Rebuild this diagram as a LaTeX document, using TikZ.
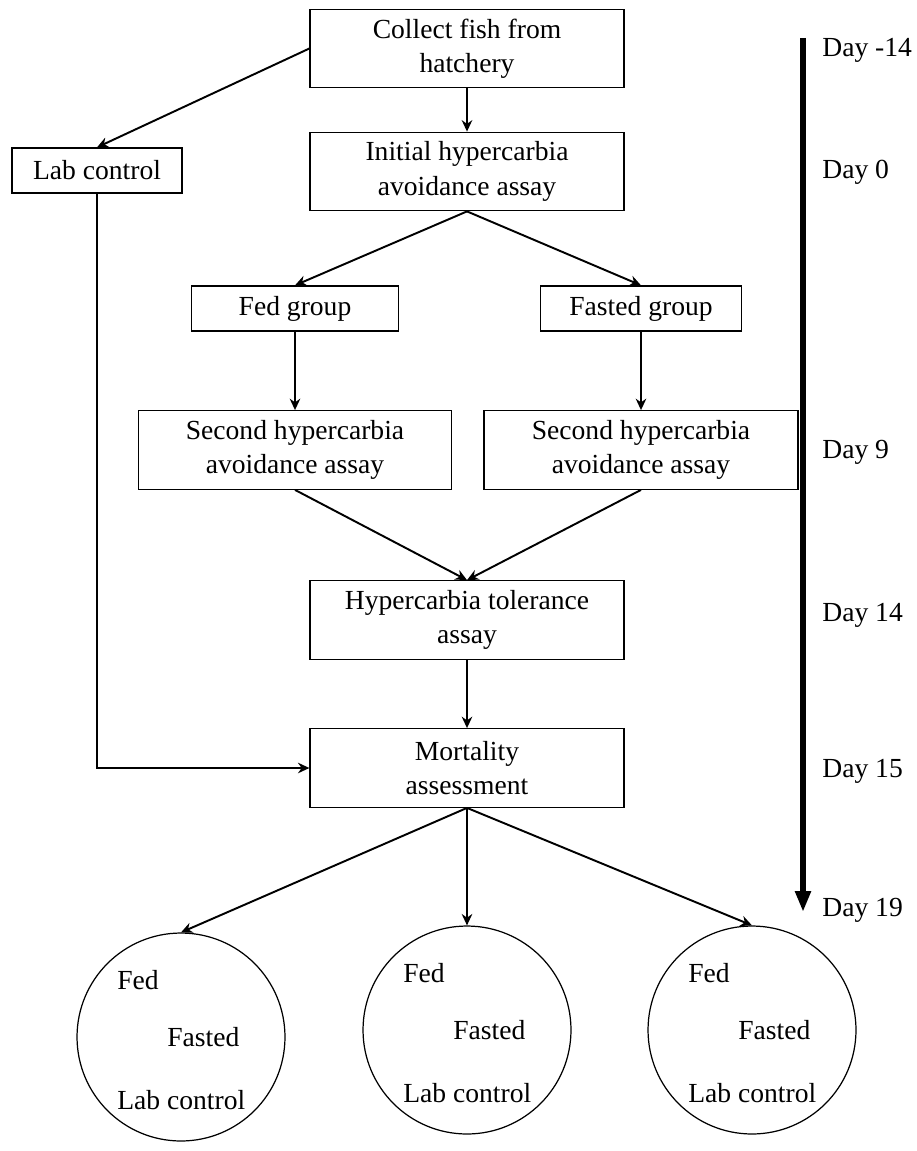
\documentclass[tikz,border=0pt]{standalone}
\usepackage{fontspec}
\setmainfont{Liberation Serif}
\usetikzlibrary{positioning, arrows.meta}

\begin{document}
\begin{tikzpicture}[x=0.02cm, y=-0.02cm,
        every node/.style={font=\fontsize{15.7}{19.5}\selectfont},
        box/.style={draw, line width=0.75pt, align=center, inner sep=0pt, minimum height=1.57cm},
        smallbox/.style={draw, line width=0.75pt, align=center, inner sep=0pt, minimum height=0.9cm},
        group/.style={draw, line width=0.7pt, circle, minimum size=4.16cm, inner sep=0pt},
        link/.style={line width=1.1pt, -{Stealth[length=6.5pt, width=6pt]}},
        day/.style={anchor=west, inner sep=0pt}]
        \useasboundingbox (0,0) rectangle (916,1151);
        % boxes
        \node[box, minimum width=6.28cm] (collect) at (467,48.5) {Collect fish from\\hatchery};
        \node[smallbox, minimum width=3.4cm] (lab) at (97,170.5) {Lab control};
        \node[box, minimum width=6.28cm] (initial) at (467,171.5) {Initial hypercarbia\\avoidance assay};
        \node[smallbox, minimum width=4.14cm] (fed) at (295,308.5) {Fed group};
        \node[smallbox, minimum width=4.02cm] (fasted) at (641,308.5) {Fasted group};
        \node[box, minimum width=6.26cm] (secfed) at (295,450) {Second hypercarbia\\avoidance assay};
        \node[box, minimum width=6.28cm] (secfasted) at (641,450) {Second hypercarbia\\avoidance assay};
        \node[box, minimum width=6.28cm] (tol) at (467,620) {Hypercarbia tolerance\\assay};
        \node[box, minimum width=6.28cm] (mort) at (467,768) {Mortality\\assessment};
        % outcome circles
        \foreach \name/\cx/\cy in {circL/181/1037, circM/467/1030, circR/752/1030} {
            \node[group] (\name) at (\cx,\cy) {};
            \node[anchor=west, inner sep=0pt] (\name fed) at (\cx-64,\cy-57) {Fed};
            \node[anchor=west, inner sep=0pt] (\name fasted) at (\cx-14,\cy) {Fasted};
            \node[anchor=west, inner sep=0pt] (\name lab) at (\cx-64,\cy+63) {Lab control};
        }
        % connectors
        \draw[link] (collect.west) -- (lab.north);
        \draw[link] (collect.south) -- (initial.north);
        \draw[link] (initial.south) -- (fed.north);
        \draw[link] (initial.south) -- (fasted.north);
        \draw[link] (fed.south) -- (secfed.north);
        \draw[link] (fasted.south) -- (secfasted.north);
        \draw[link] (secfed.south) -- (tol.north);
        \draw[link] (secfasted.south) -- (tol.north);
        \draw[link] (tol.south) -- (mort.north);
        \draw[link] (lab.south) -- (lab.south |- mort.west) -- (mort.west);
        \draw[link] (mort.south) -- (circL.north);
        \draw[link] (mort.south) -- (circM.north);
        \draw[link] (mort.south) -- (circR.north);
        % time line
        \coordinate (tstart) at (803,38);
        \coordinate (tend) at (803,912);
        \draw[line width=0.12cm, -{Triangle[length=0.42cm, width=0.3cm]}] (tstart) -- (tend);
        \node[day] (d1) at (822,50) {Day -14};
        \node[day] (d2) at (822,172) {Day 0};
        \node[day] (d3) at (822,452) {Day 9};
        \node[day] (d4) at (822,615) {Day 14};
        \node[day] (d5) at (822,771) {Day 15};
        \node[day] (d6) at (822,910) {Day 19};
    \end{tikzpicture}
\end{document}
